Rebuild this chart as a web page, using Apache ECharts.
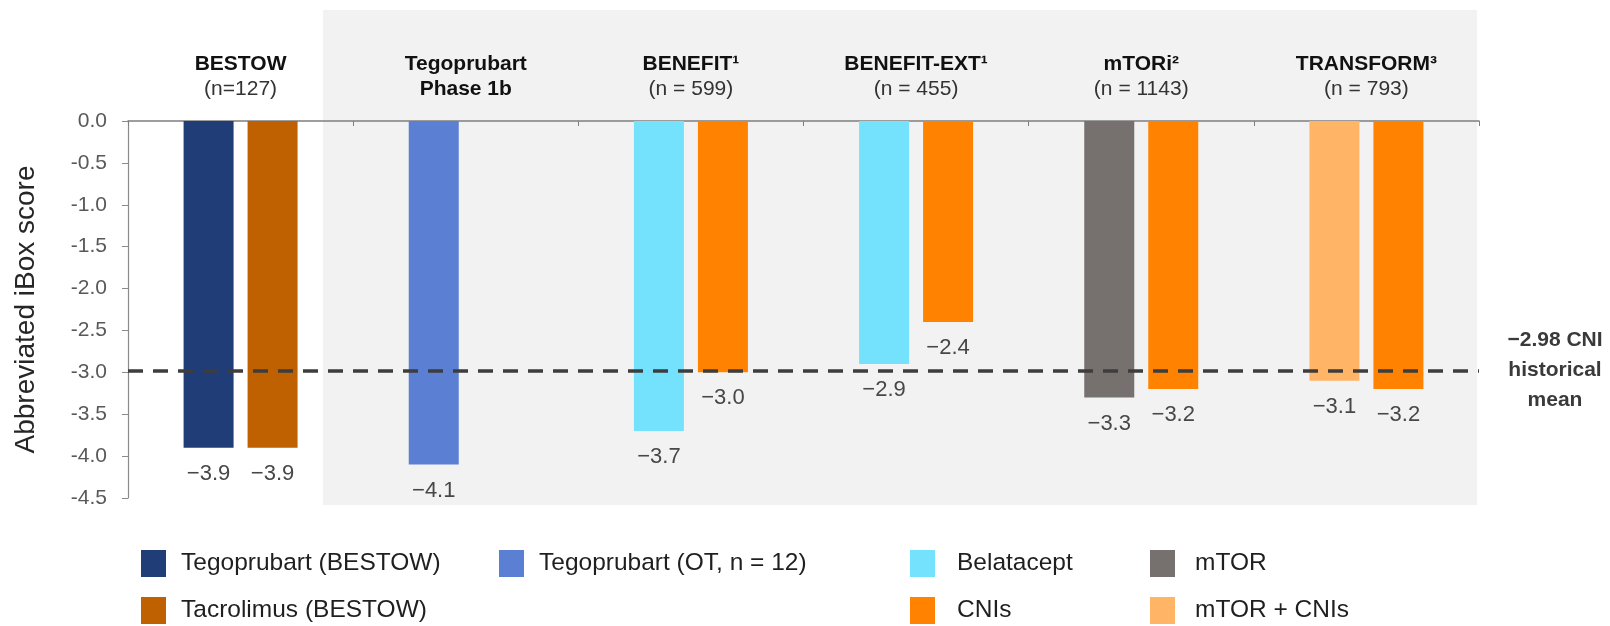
<!DOCTYPE html>
<html>
<head>
<meta charset="utf-8">
<title>Abbreviated iBox score</title>
<script src="https://cdn.jsdelivr.net/npm/echarts@6/dist/echarts.min.js"></script>
<style>
  html, body { margin: 0; padding: 0; background: #fff; }
  #chart { width: 1610px; height: 626px; }
</style>
</head>
<body>
<div id="chart"></div>
<script>
// studies along the x axis
const categories = ['BESTOW', 'Tegoprubart', 'BENEFIT¹', 'BENEFIT-EXT¹', 'mTORi²', 'TRANSFORM³'];
const subLabels = ['(n=127)', 'Phase 1b', '(n = 599)', '(n = 455)', '(n = 1143)', '(n = 793)'];

// one array per treatment, null where the study has no such arm
const tegoBestow = [-3.9, null, null, null, null, null];
const tacroBestow = [-3.9, null, null, null, null, null];
const tegoOT = [null, -4.1, null, null, null, null];
const belatacept = [null, null, -3.7, -2.9, null, null];
const cnis = [null, null, -3.0, -2.4, -3.2, -3.2];
const mtor = [null, null, null, null, -3.3, null];
const mtorCnis = [null, null, null, null, null, -3.1];

const yTicks = { min: -4.5, max: 0, interval: 0.5 };
const CNI_MEAN = -2.98;

const FONT = "'Liberation Sans', Arial, sans-serif";
const minus = (v, d) => '\u2212' + Math.abs(v).toFixed(d);

const chart = echarts.init(document.getElementById('chart'));

// left bar slot = stack L, right bar slot = stack R
function bar(name, data, stack, color) {
  return {
    name: name,
    type: 'bar',
    stack: stack,
    data: data,
    barWidth: 50,
    barGap: '28%',
    itemStyle: { color: color },
    label: {
      show: true,
      position: 'bottom',
      distance: 15,
      fontFamily: FONT,
      fontSize: 22,
      color: '#474747',
      formatter: p => minus(p.value, 1)
    }
  };
}

const series = [
  bar('Tegoprubart (BESTOW)', tegoBestow, 'L', '#203d77'),
  bar('Tacrolimus (BESTOW)', tacroBestow, 'R', '#bf6100'),
  bar('Tegoprubart (OT, n = 12)', tegoOT, 'L', '#5a7fd3'),
  bar('Belatacept', belatacept, 'L', '#74e2fd'),
  bar('CNIs', cnis, 'R', '#ff8300'),
  bar('mTOR', mtor, 'L', '#76716f'),
  bar('mTOR + CNIs', mtorCnis, 'L', '#ffb466')
];
series[0].markLine = {
  silent: true,
  symbol: 'none',
  label: { show: false },
  lineStyle: { color: '#3d3d3d', width: 3.5, type: [15, 10] },
  data: [{ yAxis: CNI_MEAN }]
};

function legend(left, names, gap) {
  return {
    left: left,
    top: 550,
    orient: 'vertical',
    padding: 0,
    itemGap: 20,
    itemWidth: 25,
    itemHeight: 27,
    icon: 'rect',
    selectedMode: false,
    data: names,
    textStyle: { fontFamily: FONT, fontSize: 24.5, color: '#1f1f1f', padding: [0, 0, 0, gap] }
  };
}

chart.setOption({
  animation: false,
  grid: { left: 128, right: 131, top: 121, bottom: 128, containLabel: false },
  graphic: [
    {
      type: 'rect',
      z: -10,
      silent: true,
      shape: { x: 323, y: 10, width: 1154, height: 495 },
      style: { fill: '#f2f2f2' }
    },
    {
      type: 'text',
      x: 1555,
      y: 370,
      silent: true,
      style: {
        text: minus(CNI_MEAN, 2) + ' CNI\nhistorical\nmean',
        fontFamily: FONT,
        fontWeight: 'bold',
        fontSize: 21,
        lineHeight: 30,
        fill: '#3a3a3a',
        align: 'center',
        verticalAlign: 'middle'
      }
    }
  ],
  legend: [
    legend(141, ['Tegoprubart (BESTOW)', 'Tacrolimus (BESTOW)'], 10),
    legend(499, ['Tegoprubart (OT, n = 12)'], 10),
    legend(910, ['Belatacept', 'CNIs'], 17),
    legend(1150, ['mTOR', 'mTOR + CNIs'], 15)
  ],
  xAxis: {
    type: 'category',
    position: 'top',
    data: categories,
    axisLine: { onZero: false, lineStyle: { color: '#7f7f7f', width: 1.5 } },
    axisTick: { show: true, inside: true, length: 5, lineStyle: { color: '#7f7f7f' } },
    axisLabel: {
      interval: 0,
      margin: 19,
      formatter: (v, i) => '{b|' + v + '}\n{' + (subLabels[i].startsWith('(') ? 'n' : 'b') + '|' + subLabels[i] + '}',
      rich: {
        b: { fontFamily: FONT, fontWeight: 'bold', fontSize: 21, color: '#111', lineHeight: 25 },
        n: { fontFamily: FONT, fontSize: 21, color: '#333', lineHeight: 25 }
      }
    }
  },
  yAxis: {
    type: 'value',
    min: yTicks.min,
    max: yTicks.max,
    interval: yTicks.interval,
    name: 'Abbreviated iBox score',
    nameLocation: 'middle',
    nameGap: 88,
    nameTextStyle: { fontFamily: FONT, fontSize: 28, color: '#262626' },
    axisLine: { show: true, lineStyle: { color: '#8a8a8a', width: 1.2 } },
    axisTick: { show: true, length: 6, lineStyle: { color: '#8a8a8a' } },
    splitLine: { show: false },
    axisLabel: {
      margin: 21,
      fontFamily: FONT,
      fontSize: 21,
      color: '#595959',
      formatter: v => v.toFixed(1)
    }
  },
  series: series
});
</script>
</body>
</html>
